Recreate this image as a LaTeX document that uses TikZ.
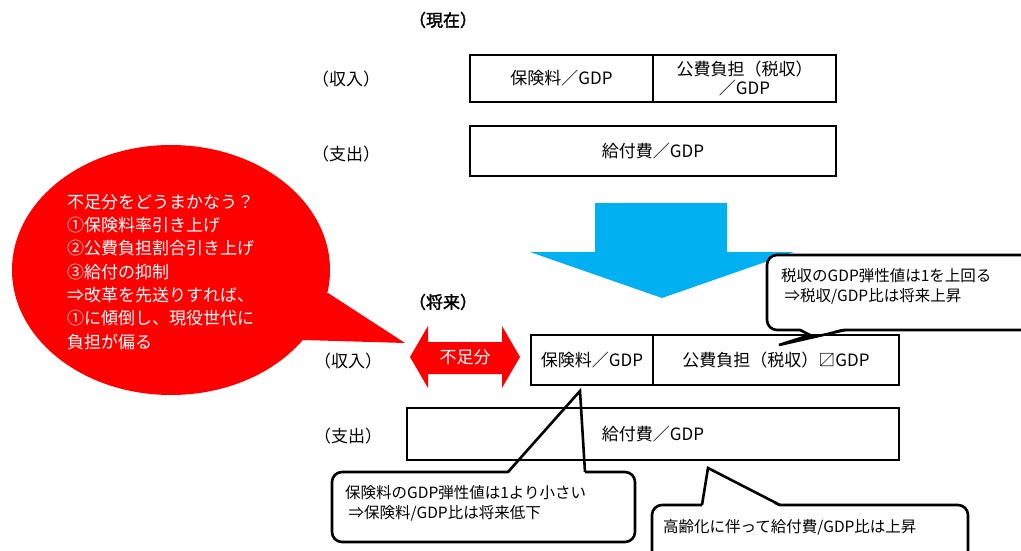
\documentclass[tikz,border=0pt]{standalone}
\usepackage{fontspec}
\setmainfont{Noto Sans CJK JP}
\newfontfamily\jpbold[FakeBold=2]{Noto Sans CJK JP}
\usetikzlibrary{shapes.geometric}
\definecolor{arrowblue}{HTML}{00B0F0}
\definecolor{bubblered}{HTML}{FF0000}
\begin{document}
\begin{tikzpicture}[x=1pt,y=-1pt,
  box/.style={draw, line width=1.7pt, inner sep=0pt, align=center, font=\fontsize{17}{19}\selectfont},
  lbl/.style={inner sep=0pt, font=\fontsize{17}{20}\selectfont},
  ttl/.style={inner sep=0pt, font=\jpbold\fontsize{17}{20}\selectfont},
  callout/.style={draw, line width=2.6pt, fill=white, rounded corners=10pt},
  tailline/.style={draw, line width=2.6pt, line join=miter},
  ctext/.style={inner sep=0pt, align=left, font=\fontsize{15.5}{20}\selectfont},
  btext/.style={inner sep=0pt, align=left, text=white, font=\fontsize{17}{23.3}\selectfont}]
\useasboundingbox (0,0) rectangle (1021,551);
\clip (0,0) rectangle (1021,551);

% blue arrow
\fill[arrowblue] (595,203) -- (727,203) -- (727,252) -- (794,252) -- (662,298) -- (530,252) -- (595,252) -- cycle;

% red bubble
\node[ellipse, fill=bubblered, minimum width=318pt, minimum height=250pt, inner sep=0pt] (bubble) at (171,270) {};
\fill[bubblered] (328,293) -- (405,343) -- (303,340) -- (280,320) -- cycle;
\node[btext, anchor=west] (bubbletxt) at (67,272) {不足分をどうまかなう？\\①保険料率引き上げ\\②公費負担割合引き上げ\\③給付の抑制\\⇒改革を先送りすれば、\\①に傾倒し、現役世代に\\負担が偏る};

% red double arrow
\fill[bubblered] (410,357) -- (428,326) -- (428,342) -- (502,342) -- (502,326) -- (520,357) -- (502,388) -- (502,374) -- (428,374) -- (428,388) -- cycle;
\node[lbl, text=white] (short) at (465,357) {不足分};

% titles and row labels
\node[ttl] (now) at (443,20) {（現在）};
\node[ttl] (future) at (443,302) {（将来）};
\node[lbl] (in1) at (346,79) {（収入）};
\node[lbl] (out1) at (346,154) {（支出）};
\node[lbl] (in2) at (348,361) {（収入）};
\node[lbl] (out2) at (348,436) {（支出）};

% callouts (under the boxes)
\draw[callout] (767,255) rectangle (1040,330);
\fill[white] (800,328) -- (810,335) -- (779,345) -- (845,328) -- cycle;
\draw[tailline] (800,330) -- (810,335) -- (779,345) -- (845,330);
\node[ctext, anchor=west] (c1) at (781,286) {税収のGDP弾性値は1を上回る\\\ ⇒税収/GDP比は将来上昇};

\draw[callout] (332,472) rectangle (635,542);
\fill[white] (508,474) -- (580,391) -- (585,474) -- cycle;
\draw[tailline] (508,472) -- (580,391) -- (585,472);
\node[ctext, anchor=west] (c2) at (345,503) {保険料のGDP弾性値は1より小さい\\\ ⇒保険料/GDP比は将来低下};

\draw[callout] (652,505) rectangle (968,575);
\fill[white] (702,507) -- (708,468) -- (780,507) -- cycle;
\draw[tailline] (702,505) -- (708,468) -- (780,505);
\node[ctext, anchor=west] (c3) at (663,527) {高齢化に伴って給付費/GDP比は上昇};

% boxes (current)
\node[box, minimum width=183pt, minimum height=47pt] (p1) at (561.5,78.5) {保険料／GDP};
\node[box, minimum width=183pt, minimum height=47pt] (t1) at (744.5,78.5) {公費負担（税収）\\／GDP};
\node[box, minimum width=366pt, minimum height=50pt] (b1) at (653,151) {給付費／GDP};

% boxes (future)
\node[box, minimum width=122pt, minimum height=50pt] (p2) at (592,360) {保険料／GDP};
\node[box, minimum width=246pt, minimum height=50pt] (t2) at (776,360) {公費負担（税収）〼GDP};
\node[box, minimum width=492pt, minimum height=52pt] (b2) at (653,434) {給付費／GDP};
\end{tikzpicture}
\end{document}
